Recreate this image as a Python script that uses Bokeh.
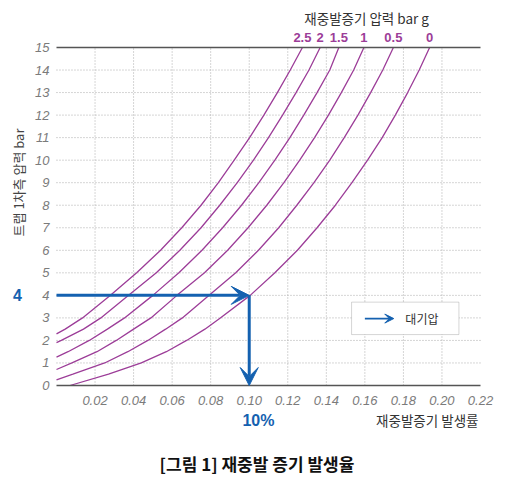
from bokeh.plotting import figure
from bokeh.models import (Range1d, FixedTicker, Label, Arrow, VeeHead, LinearAxis,
                          BoxAnnotation, PrintfTickFormatter)
from bokeh.embed import file_html
from bokeh.resources import INLINE

# ---------------- data ----------------
flash_labels = ["2.5", "2", "1.5", "1", "0.5", "0"]   # flash vessel pressure, bar g

y_p25 = [2.29, 2.5, 3, 4, 5, 6, 7, 8, 9, 10, 11, 12, 13, 14, 15]
x_p25 = [0.0, 0.0045, 0.0135, 0.028, 0.0416, 0.054, 0.065, 0.075, 0.084, 0.0922,
         0.1002, 0.1076, 0.1146, 0.1213, 0.1276]

y_p20 = [1.9, 2, 2.5, 3, 4, 5, 6, 7, 8, 9, 10, 11, 12, 13, 14, 15]
x_p20 = [0.0, 0.0025, 0.014, 0.023, 0.0374, 0.0518, 0.064, 0.075, 0.0847, 0.0938,
         0.1022, 0.11, 0.1173, 0.1243, 0.131, 0.1368]

y_p15 = [1.26, 1.5, 2, 2.5, 3, 4, 5, 6, 7, 8, 9, 10, 11, 12, 13, 14, 15]
x_p15 = [0.0, 0.006, 0.017, 0.0264, 0.0353, 0.050, 0.0635, 0.0755, 0.0862, 0.096,
         0.105, 0.1133, 0.1211, 0.1283, 0.1352, 0.1418, 0.1465]

y_p10 = [0.71, 1, 1.5, 2, 2.5, 3, 4, 5, 6, 7, 8, 9, 10, 11, 12, 13, 14, 15]
x_p10 = [0.0, 0.008, 0.021, 0.031, 0.040, 0.049, 0.0625, 0.0768, 0.0888, 0.0994,
         0.1091, 0.118, 0.1262, 0.1339, 0.1411, 0.1478, 0.1542, 0.1595]

y_p05 = [0.25, 0.5, 1, 1.5, 2, 2.5, 3, 4, 5, 6, 7, 8, 9, 10, 11, 12, 13, 14, 15]
x_p05 = [0.0, 0.0085, 0.025, 0.037, 0.0474, 0.0566, 0.0653, 0.0792, 0.093, 0.1048,
         0.1153, 0.1247, 0.1336, 0.1418, 0.1493, 0.1564, 0.163, 0.1693, 0.1748]

y_p00 = [0, 0.5, 1, 1.5, 2, 2.5, 3, 4, 5, 6, 7, 8, 9, 10, 11, 12, 13, 14, 15]
x_p00 = [0.007, 0.027, 0.044, 0.057, 0.0675, 0.077, 0.085, 0.1005, 0.1133, 0.125,
         0.1352, 0.1447, 0.1533, 0.1614, 0.169, 0.1758, 0.1822, 0.1882, 0.1936]

curves_x = [x_p25, x_p20, x_p15, x_p10, x_p05, x_p00]
curves_y = [y_p25, y_p20, y_p15, y_p10, y_p05, y_p00]

x_ticks = [0.02, 0.04, 0.06, 0.08, 0.10, 0.12, 0.14, 0.16, 0.18, 0.20, 0.22]
y_ticks = list(range(0, 16))

example_pressure = 4      # bar
example_rate = 0.10       # 10 %

top_title = "재중발증기 압력 bar g"
x_title = "재중발증기 발생률"
y_title = "트랩 1차측 압력 bar"
legend_text = "대기압"
caption = "[그림 1] 재중발 증기 발생율"

# ---------------- styling ----------------
PURPLE = "#9c3d98"
BLUE = "#1461b0"
GRAY_TXT = "#7b7b7b"
AXIS = "#555555"
KR = "Noto Sans CJK KR"
LAT = "Liberation Sans"

X0, X1 = 0.0, 0.22
Y0, Y1 = 0.0, 15.0

# the frame spans the whole canvas, so that every text can sit inside it
p = figure(width=500, height=475, output_backend="svg", toolbar_location=None,
           x_range=Range1d(-0.029056, 0.230377), y_range=Range1d(-3.99408, 17.0858),
           x_axis_location=None, y_axis_location=None,
           min_border_left=0, min_border_right=0, min_border_top=0,
           min_border_bottom=0)
p.outline_line_color = None
p.background_fill_color = "white"
p.border_fill_color = "white"
p.grid.visible = False

# dotted grid inside the chart area
gx = x_ticks[:-1]
gy = y_ticks[1:-1]
p.segment(x0=gx, y0=Y0, x1=gx, y1=Y1, line_color="#ababab", line_dash="1 2",
          line_width=1)
p.segment(x0=X0, y0=gy, x1=X1, y1=gy, line_color="#ababab", line_dash="1 2",
          line_width=1)


def strip(ax):
    ax.axis_line_color = None
    ax.major_tick_line_color = None
    ax.minor_tick_line_color = None
    ax.major_tick_in = 0
    ax.major_tick_out = 0
    ax.minor_tick_in = 0
    ax.minor_tick_out = 0


# x axis at y = 0
xa = LinearAxis(fixed_location=Y0, ticker=FixedTicker(ticks=x_ticks),
                formatter=PrintfTickFormatter(format="%.2f"), bounds=(X0, X1))
strip(xa)
xa.axis_line_color = AXIS
xa.axis_line_width = 1.3
xa.major_label_standoff = 10
xa.major_label_text_font = LAT
xa.major_label_text_font_style = "italic"
xa.major_label_text_font_size = "13px"
xa.major_label_text_color = GRAY_TXT
p.add_layout(xa, "below")

# y axis at x = 0
ya = LinearAxis(fixed_location=X0, ticker=FixedTicker(ticks=y_ticks), bounds=(Y0, Y1))
strip(ya)
ya.major_label_standoff = 7
ya.major_label_text_font = LAT
ya.major_label_text_font_style = "italic"
ya.major_label_text_font_size = "13px"
ya.major_label_text_color = GRAY_TXT
p.add_layout(ya, "left")

# top axis at y = 15: solid line and the flash-pressure labels of the curves
top_x = [cx[-1] for cx in curves_x]
ta = LinearAxis(fixed_location=Y1, ticker=FixedTicker(ticks=top_x),
                major_label_overrides=dict(zip(top_x, flash_labels)),
                bounds=(X0, X1))
strip(ta)
ta.axis_line_color = AXIS
ta.axis_line_width = 1.3
ta.major_label_standoff = 6
ta.major_label_text_font = LAT
ta.major_label_text_font_style = "bold"
ta.major_label_text_font_size = "13px"
ta.major_label_text_color = PURPLE
p.add_layout(ta, "above")

# curves
for cx, cy in zip(curves_x, curves_y):
    p.line(cx, cy, line_color=PURPLE, line_width=1.3)


def label(x, y, text, font, size, color, style="normal", align="center", angle=0,
          level="annotation"):
    p.add_layout(Label(x=x, y=y, text=text, text_align=align, text_baseline="middle",
                       text_font=font, text_font_size=size, text_font_style=style,
                       text_color=color, angle=angle, level=level))


label(0.1609, 16.33, top_title, KR, "13.5px", "#333333")
label(0.21896, -1.553, x_title, KR, "13.5px", "#333333", align="right")
label(-0.01972, 9.01, y_title, KR, "13px", "#444444", angle=1.5708)
label(-0.02024, example_pressure, str(example_pressure), LAT, "16px", BLUE, "bold")
label(0.1048, -1.553, "%d%%" % round(example_rate * 100), LAT, "16px", BLUE, "bold")
label(0.1040, -3.44, caption, KR, "17px", "#111111", "bold")

# example reading arrows
p.add_layout(Arrow(x_start=X0, y_start=example_pressure, x_end=example_rate,
                   y_end=example_pressure, line_color=BLUE, line_width=3,
                   end=VeeHead(size=18, fill_color=BLUE, line_color=BLUE)))
p.add_layout(Arrow(x_start=example_rate, y_start=example_pressure, x_end=example_rate,
                   y_end=Y0, line_color=BLUE, line_width=3,
                   end=VeeHead(size=18, fill_color=BLUE, line_color=BLUE)))

# legend box
p.add_layout(BoxAnnotation(left=0.1531, right=0.2088, bottom=2.26, top=3.70,
                           fill_color="white", fill_alpha=1, line_color="#777777",
                           line_width=1, level="overlay"))
p.add_layout(Arrow(x_start=0.160, y_start=2.97, x_end=0.175, y_end=2.97,
                   line_color=BLUE, line_width=1.6, level="overlay",
                   end=VeeHead(size=9, fill_color=BLUE, line_color=BLUE)))
label(0.181, 2.97, legend_text, KR, "12px", "#333333", align="left", level="overlay")

open("out.html", "w").write(file_html(p, INLINE))
